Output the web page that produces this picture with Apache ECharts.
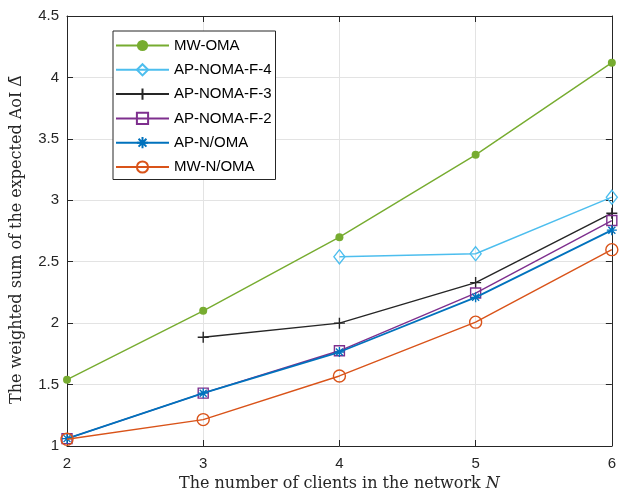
<!DOCTYPE html>
<html><head><meta charset="utf-8">
<script src="https://cdn.jsdelivr.net/npm/echarts@6/dist/echarts.min.js"></script>
<style>html,body{margin:0;padding:0;background:#fff}#c{width:619px;height:497px}</style>
</head><body><div id="c"></div>
<script>
const clients = [2, 3, 4, 5, 6];
const seriesNames = ['MW-OMA','AP-NOMA-F-4','AP-NOMA-F-3','AP-NOMA-F-2','AP-N/OMA','MW-N/OMA'];
const mwOma     = [1.54, 2.10, 2.70, 3.37, 4.12];
const apNomaF4  = [null, null, 2.54, 2.565, 3.025];
const apNomaF3  = [null, 1.885, 2.00, 2.33, 2.895];
const apNomaF2  = [1.06, 1.43, 1.775, 2.245, 2.835];
const apNOma    = [1.06, 1.43, 1.765, 2.21, 2.757];
const mwNOma    = [1.055, 1.215, 1.57, 2.008, 2.598];
const yTicks = [1, 1.5, 2, 2.5, 3, 3.5, 4, 4.5];

const values = [mwOma, apNomaF4, apNomaF3, apNomaF2, apNOma, mwNOma];
const colors = ['#77AC30','#4DBEEE','#262626','#7E2F8E','#0072BD','#D95319'];
const plusPath = 'path://M0,-1L0,1M-1,0L1,0';
const starPath = 'path://M0,-1L0,1M-1,0L1,0M-0.7,-0.7L0.7,0.7M-0.7,0.7L0.7,-0.7';
const symbols = [
  {symbol:'circle', size:8, fill:true},
  {symbol:'diamond', size:[11,14], fill:false},
  {symbol:plusPath, size:11, fill:false},
  {symbol:'rect', size:10, fill:false},
  {symbol:starPath, size:10, fill:false},
  {symbol:'circle', size:12, fill:false}
];
const lineWidths = [1.4,1.4,1.4,1.4,1.8,1.4];

const series = seriesNames.map((name,i)=>{
  const s = symbols[i];
  return {
    name, type:'line',
    data: clients.map((x,j)=>[x, values[i][j]]).filter(p=>p[1]!==null),
    symbol: s.symbol, symbolSize: s.size, showSymbol:true,
    lineStyle:{color:colors[i], width:lineWidths[i]},
    itemStyle:{color: s.fill ? colors[i] : 'rgba(255,255,255,0)', borderColor:colors[i], borderWidth: s.fill?0:1.4},
    emphasis:{disabled:true},
    animation:false, z: 2+i
  };
});

const chart = echarts.init(document.getElementById('c'), null, {renderer:'canvas'});
const axisCol = '#262626';
const serif = 'DejaVu Serif, Liberation Serif';
chart.setOption({
  animation:false,
  grid:{left:67, right:4, top:16, bottom:48, containLabel:false},
  legend:{
    orient:'vertical', left:113, top:31,
    data: seriesNames,
    backgroundColor:'#fff', borderColor:'#262626', borderWidth:1,
    padding:[7,4,5,2], itemGap:9.3, itemWidth:53, itemHeight:14,
    textStyle:{fontFamily:'Liberation Sans, Arial', fontSize:15, lineHeight:14, color:'#000'},
    selectedMode:false
  },
  xAxis:[{
    type:'value', min:2, max:6, interval:1,
    name:'The number of clients in the network {i|N}',
    nameLocation:'middle', nameGap:30,
    nameTextStyle:{fontFamily:serif, fontSize:16, color:'#262626',
      rich:{i:{fontFamily:serif, fontSize:16, fontStyle:'italic', color:'#262626'}}},
    axisLine:{show:true, lineStyle:{color:axisCol, width:1}},
    axisTick:{show:true, inside:true, length:6, lineStyle:{color:axisCol}},
    axisLabel:{fontFamily:'Liberation Sans, Arial', fontSize:15, color:axisCol, margin:10},
    splitLine:{show:true, lineStyle:{color:'#e3e3e3', width:1}}
  },{
    type:'value', min:2, max:6, interval:1, position:'top',
    axisLine:{show:true, lineStyle:{color:axisCol, width:1}},
    axisTick:{show:true, inside:true, length:6, lineStyle:{color:axisCol}},
    axisLabel:{show:false}, splitLine:{show:false}
  }],
  yAxis:[{
    type:'value', min:1, max:4.5, interval:0.5,
    name:'The weighted sum of the expected AoI \u0394\u0304',
    nameLocation:'middle', nameGap:42, nameRotate:90,
    nameTextStyle:{fontFamily:serif, fontSize:16, color:'#262626', padding:[0,17,0,0]},
    axisLine:{show:true, lineStyle:{color:axisCol, width:1}},
    axisTick:{show:true, inside:true, length:6, lineStyle:{color:axisCol}},
    axisLabel:{fontFamily:'Liberation Sans, Arial', fontSize:15, color:axisCol, margin:8,
      formatter:v=>String(v)},
    splitLine:{show:true, lineStyle:{color:'#e3e3e3', width:1}}
  },{
    type:'value', min:1, max:4.5, interval:0.5, position:'right',
    axisLine:{show:true, lineStyle:{color:axisCol, width:1}},
    axisTick:{show:true, inside:true, length:6, lineStyle:{color:axisCol}},
    axisLabel:{show:false}, splitLine:{show:false}
  }],
  series
});
</script></body></html>
